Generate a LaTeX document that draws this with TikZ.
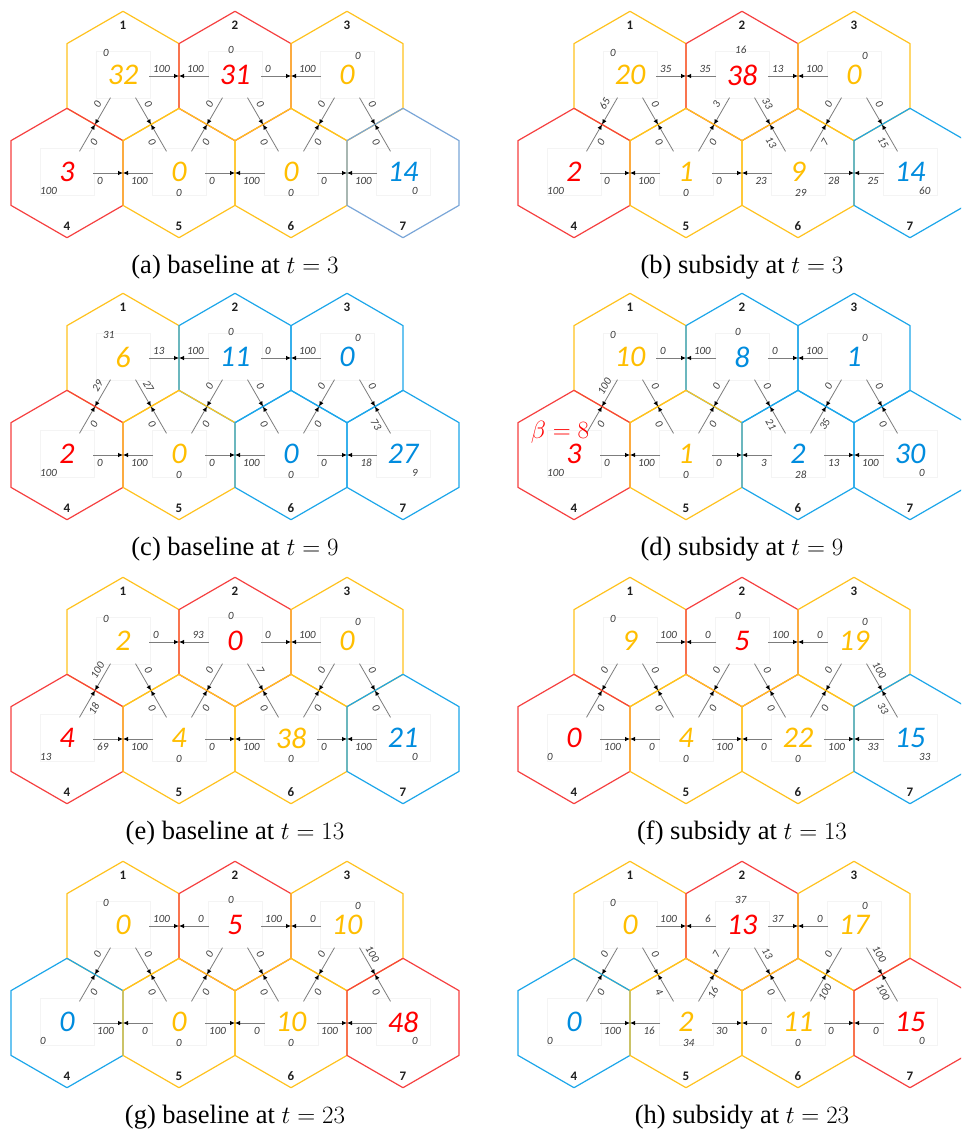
\documentclass[tikz,border=0pt]{standalone}
\usepackage{fontspec}
\setmainfont{Liberation Serif}
\newfontfamily\calib{Carlito}
\usetikzlibrary{calc,arrows.meta}

% cell border colours
\definecolor{edgeY}{RGB}{255,194,30}
\definecolor{edgeR}{RGB}{246,64,64}
\definecolor{edgeB}{RGB}{28,166,234}
\definecolor{edgeL}{RGB}{122,166,216}
% count colours
\definecolor{numY}{RGB}{255,190,0}
\definecolor{numR}{RGB}{255,0,0}
\definecolor{numB}{RGB}{0,140,222}
% flows
\definecolor{flowtxt}{RGB}{60,60,60}
\definecolor{flowline}{RGB}{125,125,125}
\definecolor{boxline}{RGB}{244,244,244}

\def\hexR{64.7pt}

\tikzset{
  celledge/.style={line width=1.2pt, line join=round},
  numbox/.style={draw=boxline, line width=0.6pt, minimum width=54pt, minimum height=47pt, inner sep=0pt},
  bignum/.style={font=\calib\itshape\fontsize{30}{30}\selectfont, inner sep=0pt},
  flowlbl/.style={font=\calib\itshape\fontsize{11}{11}\selectfont, text=flowtxt, inner sep=1pt},
  idxlbl/.style={font=\calib\bfseries\fontsize{13}{13}\selectfont, text=black!88, inner sep=0pt},
  capt/.style={font=\fontsize{26.5}{30}\selectfont, inner sep=0pt},
  flow/.style={draw=flowline, line width=0.8pt, -{Latex[color=black,length=5pt,width=4.5pt]}},
}

% centres of the seven cells, cell 1 at (#2,#3)
\newcommand\cellcentres[3]{%
  \coordinate (#1-1) at (#2,#3);
  \coordinate (#1-2) at ($(#1-1)+(112,0)$);
  \coordinate (#1-3) at ($(#1-1)+(224,0)$);
  \coordinate (#1-4) at ($(#1-1)+(-56,-97)$);
  \coordinate (#1-5) at ($(#1-1)+(56,-97)$);
  \coordinate (#1-6) at ($(#1-1)+(168,-97)$);
  \coordinate (#1-7) at ($(#1-1)+(280,-97)$);
}

% hexagonal cells: border colour / count colour / count / outside value
\newcommand\drawcells[2]{%
  \foreach \ec/\nc/\num/\out [count=\i] in {#2}{
    \ifcase\i\or\def\ox{-21}\def\oy{23}\def\ly{51}%
      \or\def\ox{-8}\def\oy{26}\def\ly{51}%
      \or\def\ox{7}\def\oy{20}\def\ly{51}%
      \or\def\ox{-28}\def\oy{-18}\def\ly{-53}%
      \or\def\ox{-4}\def\oy{-20}\def\ly{-53}%
      \or\def\ox{-4}\def\oy{-20}\def\ly{-53}%
      \or\def\ox{8}\def\oy{-18}\def\ly{-53}\fi
    \draw[celledge, edge\ec] ($(#1-\i)+(90:\hexR)$) -- ($(#1-\i)+(150:\hexR)$)
      -- ($(#1-\i)+(210:\hexR)$) -- ($(#1-\i)+(270:\hexR)$)
      -- ($(#1-\i)+(330:\hexR)$) -- ($(#1-\i)+(30:\hexR)$) -- cycle;
    \node[numbox] (#1-box\i) at ($(#1-\i)+(0,1)$) {};
    \node[bignum, text=num\nc] (#1-n\i) at ($(#1-\i)+(0,1)$) {\num};
    \node[flowlbl, anchor=west] (#1-o\i) at ($(#1-\i)+(\ox,\oy)$) {\out};
    \node[idxlbl] (#1-id\i) at ($(#1-\i)+(0,\ly)$) {\i};
  }
}

% flows across vertical borders: value leaving left cell / value leaving right cell
\newcommand\hflows[2]{%
  \foreach \la/\lb [count=\k] in {#2}{
    \ifcase\k\or\def\cA{1}\def\cB{2}\def\sd{7}%
      \or\def\cA{2}\def\cB{3}\def\sd{7}%
      \or\def\cA{4}\def\cB{5}\def\sd{-8}%
      \or\def\cA{5}\def\cB{6}\def\sd{-8}%
      \or\def\cA{6}\def\cB{7}\def\sd{-8}\fi
    \coordinate (#1-m\cA\cB) at ($(#1-\cA)!0.5!(#1-\cB)$);
    \draw[flow] ($(#1-\cA)!26pt!(#1-\cB)$) -- (#1-m\cA\cB);
    \draw[flow] ($(#1-\cB)!26pt!(#1-\cA)$) -- (#1-m\cA\cB);
    \node[flowlbl, anchor=west] at ($(#1-\cA)+(29,\sd)$) {\la};
    \node[flowlbl, anchor=east] at ($(#1-\cB)+(-30,\sd)$) {\lb};
  }
}

% flows across slanted borders: value leaving upper cell / value leaving lower cell
\newcommand\dflows[2]{%
  \foreach \la/\lb [count=\k] in {#2}{
    \ifcase\k\or\def\cA{1}\def\cB{4}\def\rt{60}\def\sa{150}\def\sb{330}%
      \or\def\cA{1}\def\cB{5}\def\rt{-60}\def\sa{30}\def\sb{210}%
      \or\def\cA{2}\def\cB{5}\def\rt{60}\def\sa{150}\def\sb{330}%
      \or\def\cA{2}\def\cB{6}\def\rt{-60}\def\sa{30}\def\sb{210}%
      \or\def\cA{3}\def\cB{6}\def\rt{60}\def\sa{150}\def\sb{330}%
      \or\def\cA{3}\def\cB{7}\def\rt{-60}\def\sa{30}\def\sb{210}\fi
    \coordinate (#1-m\cA\cB) at ($(#1-\cA)!0.5!(#1-\cB)$);
    \draw[flow] ($(#1-\cA)!25pt!(#1-\cB)$) -- (#1-m\cA\cB);
    \draw[flow] ($(#1-\cB)!25pt!(#1-\cA)$) -- (#1-m\cA\cB);
    \node[flowlbl, rotate=\rt] at ($(#1-\cA)!37pt!(#1-\cB)+(\sa:8pt)$) {\la};
    \node[flowlbl, rotate=\rt] at ($(#1-\cB)!40pt!(#1-\cA)+(\sb:8pt)$) {\lb};
  }
}

\newcommand\panelcaption[2]{%
  \node[capt] (#1-cap) at ($(#1-2)+(0,-191)$) {#2};
}

\begin{document}
\begin{tikzpicture}[x=1pt, y=1pt]
\useasboundingbox (0,0) rectangle (961,-1134);
\fill[white] (0,0) rectangle (961,-1134);
\clip (0,0) rectangle (961,-1134);

% (a)
\cellcentres{a}{123}{-76}
\drawcells{a}{Y/Y/32/0, R/R/31/0, Y/Y/0/0, R/R/3/100, Y/Y/0/0, Y/Y/0/0, L/B/14/0}
\hflows{a}{100/100, 0/100, 0/100, 0/100, 0/100}
\dflows{a}{0/0, 0/0, 0/0, 0/0, 0/0, 0/0}
\panelcaption{a}{(a) baseline at $t = 3$}

% (b)
\cellcentres{b}{630}{-76}
\drawcells{b}{Y/Y/20/0, R/R/38/16, Y/Y/0/0, R/R/2/100, Y/Y/1/0, Y/Y/9/29, B/B/14/60}
\hflows{b}{35/35, 13/100, 0/100, 0/23, 28/25}
\dflows{b}{65/0, 0/0, 3/0, 33/13, 0/7, 0/15}
\panelcaption{b}{(b) subsidy at $t = 3$}

% (c)
\cellcentres{c}{123}{-358}
\drawcells{c}{Y/Y/6/31, B/B/11/0, B/B/0/0, R/R/2/100, Y/Y/0/0, B/B/0/0, B/B/27/9}
\hflows{c}{13/100, 0/100, 0/100, 0/100, 0/18}
\dflows{c}{29/0, 27/0, 0/0, 0/0, 0/0, 0/73}
\panelcaption{c}{(c) baseline at $t = 9$}

% (d)
\cellcentres{d}{630}{-358}
\drawcells{d}{Y/Y/10/0, B/B/8/0, B/B/1/0, R/R/3/100, Y/Y/1/0, B/B/2/28, B/B/30/0}
\hflows{d}{0/100, 0/100, 0/100, 0/3, 13/100}
\dflows{d}{100/0, 0/0, 0/0, 0/21, 0/35, 0/0}
\node[text=numR, font=\fontsize{24}{24}\selectfont, inner sep=0pt] (d-beta) at ($(d-4)+(-14,23)$) {$\beta = 8$};
\panelcaption{d}{(d) subsidy at $t = 9$}

% (e)
\cellcentres{e}{123}{-642}
\drawcells{e}{Y/Y/2/0, R/R/0/0, Y/Y/0/0, R/R/4/13, Y/Y/4/0, Y/Y/38/0, B/B/21/0}
\hflows{e}{0/93, 0/100, 69/100, 0/100, 0/100}
\dflows{e}{100/18, 0/0, 0/0, 7/0, 0/0, 0/0}
\panelcaption{e}{(e) baseline at $t = 13$}

% (f)
\cellcentres{f}{630}{-642}
\drawcells{f}{Y/Y/9/0, R/R/5/0, Y/Y/19/0, R/R/0/0, Y/Y/4/0, Y/Y/22/0, B/B/15/33}
\hflows{f}{100/0, 100/0, 100/0, 100/0, 100/33}
\dflows{f}{0/0, 0/0, 0/0, 0/0, 0/0, 100/33}
\panelcaption{f}{(f) subsidy at $t = 13$}

% (g)
\cellcentres{g}{123}{-926}
\drawcells{g}{Y/Y/0/0, R/R/5/0, Y/Y/10/0, B/B/0/0, Y/Y/0/0, Y/Y/10/0, R/R/48/0}
\hflows{g}{100/0, 100/0, 100/0, 100/0, 100/100}
\dflows{g}{0/0, 0/0, 0/0, 0/0, 0/0, 100/0}
\panelcaption{g}{(g) baseline at $t = 23$}

% (h)
\cellcentres{h}{630}{-926}
\drawcells{h}{Y/Y/0/0, R/R/13/37, Y/Y/17/0, B/B/0/0, Y/Y/2/34, Y/Y/11/0, R/R/15/0}
\hflows{h}{100/6, 37/0, 100/16, 30/0, 0/0}
\dflows{h}{0/0, 0/4, 7/16, 13/0, 0/100, 100/100}
\panelcaption{h}{(h) subsidy at $t = 23$}
\end{tikzpicture}
\end{document}
